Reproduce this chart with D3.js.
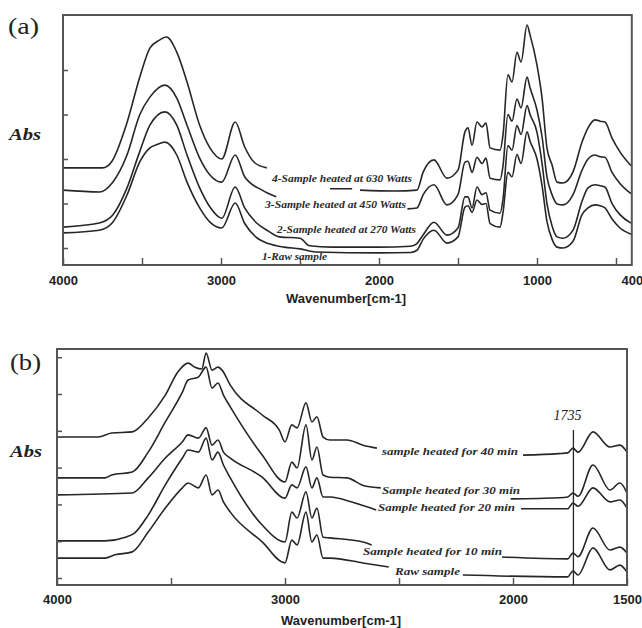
<!DOCTYPE html>
<html><head><meta charset="utf-8">
<script src="https://cdn.jsdelivr.net/npm/d3@7/dist/d3.min.js"></script>
<style>body{margin:0;background:#fff}svg{display:block}</style>
</head><body>
<svg id="c" width="642" height="628"></svg>
<script>
// ---------- DATA: panel (a) ----------
const aTickValues = [4000, 3500, 3000, 2500, 2000, 1500, 1000, 500];
const aTickLabels = [4000, 3000, 2000, 1000, 400];
const aYTicks = [0, 1, 2, 3, 4];
const aSeriesNames = ["4-Sample heated at 630 Watts", "3-Sample heated at 450 Watts", "2-Sample heated at 270 Watts", "1-Raw sample"];
// [wavenumber, absorbance] ; null = break in the trace
const aW630 = [[4000,1.80],[3750,1.80],[3690,1.95],[3600,2.76],[3510,3.89],[3450,4.49],[3390,4.67],[3345,4.74],[3280,4.40],[3215,3.73],[3135,2.76],[3070,2.25],[2995,2.00],[2910,2.83],[2850,2.27],[2785,1.91],[2710,1.80],
  [2500,null],[2310,1.33],[2170,1.33],[2145,null],[2120,1.30],[1900,1.28],[1760,1.30],[1720,1.71],[1652,1.98],[1570,1.57],[1500,1.75],[1456,2.61],[1437,2.70],[1411,2.31],[1380,2.83],[1348,2.72],[1323,2.81],[1297,2.25],[1234,2.20],[1215,2.54],[1184,3.89],[1158,3.73],[1127,4.40],[1101,4.18],[1063,5.01],[1044,4.79],[1000,4.11],[968,3.37],[937,2.25],[905,1.87],[873,1.48],[835,1.46],[772,1.71],[715,2.38],[677,2.70],[633,2.88],[600,2.85],[570,2.83],[525,2.47],[475,2.16],[405,1.85]];
const aW450 = [[4000,1.30],[3770,1.26],[3685,1.48],[3595,2.09],[3515,2.99],[3450,3.39],[3355,3.66],[3280,3.37],[3215,2.76],[3135,2.02],[3070,1.64],[2995,1.48],[2910,2.09],[2850,1.60],[2740,1.30],[2650,1.15],
  [2200,null],[1820,0.88],[1760,0.90],[1720,1.20],[1652,1.42],[1570,0.97],[1500,1.20],[1456,1.93],[1437,1.95],[1411,1.70],[1380,2.04],[1348,1.90],[1323,2.02],[1297,1.57],[1234,1.53],[1215,1.85],[1184,3.00],[1158,2.85],[1127,3.35],[1101,3.15],[1063,3.84],[1044,3.60],[1000,3.10],[968,2.50],[937,1.60],[905,1.20],[873,0.99],[835,0.97],[772,1.20],[715,1.75],[677,2.00],[633,2.09],[600,2.05],[570,2.04],[525,1.70],[475,1.45],[405,1.22]];
const aW270 = [[4000,0.47],[3770,0.56],[3685,0.74],[3595,1.35],[3515,2.16],[3450,2.76],[3355,3.06],[3280,2.76],[3215,2.09],[3135,1.35],[3070,0.92],[2995,0.67],[2910,1.37],[2850,0.90],[2780,0.58],[2700,0.38],[2630,0.25],[2500,0.22],[2440,0.05],[2300,0.02],[2000,0.02],[1800,0.04],[1760,0.10],[1720,0.30],[1652,0.58],[1570,0.29],[1500,0.45],[1456,1.15],[1437,1.15],[1411,0.90],[1380,1.37],[1348,1.20],[1323,1.24],[1297,0.85],[1234,0.78],[1215,1.10],[1184,2.30],[1158,2.20],[1127,2.75],[1101,2.55],[1063,3.20],[1044,3.00],[1000,2.60],[968,1.90],[937,1.00],[905,0.50],[873,0.25],[835,0.22],[772,0.40],[715,1.05],[677,1.35],[633,1.42],[600,1.40],[570,1.37],[525,1.00],[475,0.75],[405,0.56]];
const aRaw = [[4000,0.34],[3770,0.40],[3685,0.58],[3595,1.19],[3515,1.93],[3450,2.25],[3400,2.33],[3355,2.38],[3280,2.09],[3215,1.48],[3135,0.90],[3070,0.58],[2995,0.45],[2910,1.01],[2850,0.55],[2780,0.25],[2700,0.10],[2600,0.02],[2500,-0.02],[2400,-0.09],[2000,-0.11],[1800,-0.10],[1760,-0.05],[1720,0.20],[1652,0.40],[1570,0.11],[1500,0.25],[1456,0.92],[1437,0.95],[1411,0.80],[1380,1.08],[1348,0.98],[1323,1.00],[1297,0.55],[1234,0.47],[1215,0.80],[1184,1.70],[1158,1.60],[1127,2.10],[1101,1.90],[1063,2.61],[1044,2.40],[1000,2.00],[968,1.40],[937,0.60],[905,0.20],[873,0.02],[835,0.00],[772,0.15],[715,0.75],[677,0.90],[633,0.97],[600,0.95],[570,0.90],[525,0.65],[475,0.45],[405,0.31]];

// ---------- DATA: panel (b) ----------
const bTickValues = [4000, 3500, 3000, 2500, 2000, 1500];
const bTickLabels = [4000, 3000, 2000, 1500];
const bYTicks = [0, 1, 2, 3, 4, 5, 6];
const bSeriesNames = ["sample heated for 40 min", "Sample heated for 30 min", "Sample heated for 20 min", "Sample heated for 10 min", "Raw sample"];
const bMarker = 1735;
const b40 = [[4000,3.83],[3820,3.83],[3760,3.94],[3670,3.97],[3600,4.35],[3525,4.97],[3470,5.60],[3425,5.84],[3395,5.73],[3365,5.68],[3346,6.11],[3320,5.65],[3294,5.73],[3276,5.65],[3240,5.24],[3100,4.43],[3025,4.02],[3000,3.70],[2970,4.16],[2947,4.08],[2908,4.76],[2882,4.24],[2860,4.38],[2833,3.83],[2803,3.75],[2728,3.75],[2658,3.61],[2597,3.53],
  [2300,null],[1956,3.34],[1800,3.38],[1760,3.40],[1737,3.53],[1715,3.42],[1649,3.97],[1575,3.56],[1531,3.61],[1500,3.42]];
const b30 = [[4000,2.72],[3790,2.72],[3760,2.80],[3670,2.88],[3600,3.42],[3525,4.24],[3450,5.05],[3425,5.38],[3380,5.46],[3346,5.73],[3320,5.16],[3294,5.30],[3270,4.97],[3240,4.65],[3100,3.34],[3000,2.61],[2970,3.15],[2947,2.99],[2908,4.16],[2882,3.21],[2860,3.56],[2833,2.80],[2803,2.74],[2728,2.72],[2650,2.50],[2580,2.45],
  [2300,null],[2010,2.15],[1800,2.18],[1760,2.20],[1737,2.31],[1715,2.22],[1649,3.07],[1575,2.39],[1531,2.58],[1500,2.31]];
const b20 = [[4000,2.26],[3670,2.31],[3600,2.72],[3525,3.26],[3450,3.70],[3425,3.89],[3380,3.80],[3346,4.08],[3320,3.61],[3294,3.75],[3270,3.42],[3240,3.26],[3100,2.74],[3000,2.17],[2970,2.53],[2947,2.45],[2908,3.02],[2882,2.45],[2860,2.72],[2833,2.20],[2803,2.20],[2700,2.05],[2600,1.85],
  [2300,null],[1965,1.88],[1760,1.88],[1737,2.04],[1715,1.95],[1649,2.45],[1575,2.07],[1531,2.12],[1500,1.90]];
const b10 = [[4000,1.01],[3790,1.01],[3700,1.11],[3660,1.22],[3600,1.71],[3525,2.53],[3450,3.26],[3425,3.48],[3380,3.42],[3346,3.80],[3320,3.21],[3294,3.42],[3270,3.07],[3240,2.72],[3100,1.44],[3000,0.98],[2970,1.79],[2947,1.63],[2908,2.34],[2882,1.63],[2860,1.90],[2833,1.11],[2803,1.09],[2658,0.98],[2620,0.90],
  [2300,null],[2048,0.57],[1760,0.52],[1737,0.68],[1715,0.58],[1649,1.36],[1575,0.76],[1531,0.84],[1500,0.68]];
const bRaw = [[4000,0.54],[3790,0.54],[3745,0.63],[3670,0.71],[3600,1.25],[3525,1.90],[3450,2.45],[3425,2.58],[3380,2.45],[3346,2.80],[3320,2.26],[3294,2.39],[3270,2.07],[3240,1.79],[3100,0.98],[3000,0.41],[2970,1.03],[2947,0.90],[2908,1.79],[2882,0.98],[2860,1.17],[2833,0.54],[2803,0.54],[2658,0.41],[2545,0.30],
  [2400,null],[2220,0.08],[1760,0.03],[1737,0.19],[1715,0.08],[1649,0.82],[1575,0.22],[1531,0.35],[1500,0.16]];

// ---------- DRAW ----------
const svg = d3.select("#c");
const INK = "#262626", FRAME = "#555";

function drawPanel(o) {
  const g = svg.append("g");
  const x = d3.scaleLinear().domain(o.xDomain).range([o.left, o.right]);
  const y = d3.scaleLinear().domain(o.yDomain).range([o.bottom, o.top]);
  const line = d3.line().defined(d => d[1] != null).x(d => x(d[0])).y(d => y(d[1])).curve(d3.curveMonotoneX);
  o.series.forEach(s => g.append("path").datum(s).attr("d", line)
    .attr("fill", "none").attr("stroke", INK).attr("stroke-width", 1.6).attr("stroke-linejoin", "round"));
  const xt = g.append("g").attr("transform", `translate(0,${o.bottom})`)
    .call(d3.axisBottom(x).tickValues(o.xTicks).tickSize(-7).tickFormat(""));
  xt.select(".domain").remove();
  xt.selectAll("line").attr("stroke", FRAME).attr("stroke-width", 1.5);
  const xl = g.append("g").attr("transform", `translate(0,${o.bottom})`)
    .call(d3.axisBottom(x).tickValues(o.xLabels).tickSize(0).tickPadding(o.pad).tickFormat(d3.format("d")));
  xl.select(".domain").remove();
  xl.selectAll("text").attr("font-family", "'Liberation Sans', Arial, sans-serif").attr("font-weight", "bold")
    .attr("font-size", 13).attr("fill", "#222");
  const yt = g.append("g").attr("transform", `translate(${o.left},0)`)
    .call(d3.axisLeft(y).tickValues(o.yTicks).tickSize(-5).tickFormat(""));
  yt.select(".domain").remove();
  yt.selectAll("line").attr("stroke", FRAME).attr("stroke-width", 1.5);
  g.append("rect").attr("x", o.left).attr("y", o.top).attr("width", o.right - o.left).attr("height", o.bottom - o.top)
    .attr("fill", "none").attr("stroke", FRAME).attr("stroke-width", 2);
  g.append("text").attr("x", o.titleX).attr("y", o.titleY).attr("text-anchor", "middle")
    .attr("font-family", "'Liberation Sans', Arial, sans-serif").attr("font-weight", "bold").attr("font-size", 13)
    .attr("fill", "#222").text("Wavenumber[cm-1]");
  g.append("text").attr("x", o.letterX).attr("y", o.letterY).attr("font-family", "'Liberation Serif', 'Times New Roman', serif")
    .attr("font-size", 24).attr("fill", "#222").attr("textLength", 31).attr("lengthAdjust", "spacingAndGlyphs").text(o.letter);
  g.append("text").attr("x", o.absX).attr("y", o.absY).attr("font-family", "'Liberation Serif', 'Times New Roman', serif")
    .attr("font-size", 16).attr("font-weight", "bold").attr("font-style", "italic").attr("fill", "#222")
    .attr("textLength", 32).attr("lengthAdjust", "spacingAndGlyphs").text("Abs");
  o.names.forEach((n, i) => {
    const p = o.labelPos[i];
    g.append("text").attr("x", p[0]).attr("y", p[1]).attr("font-family", "'Liberation Serif', 'Times New Roman', serif")
      .attr("font-size", o.labelSize).attr("font-style", "italic").attr("font-weight", "bold").attr("fill", "#2a2a2a")
      .attr("textLength", p[2]).attr("lengthAdjust", "spacingAndGlyphs").text(n);
  });
  return {g, x, y};
}

drawPanel({
  xDomain: [4000, 400], yDomain: [-0.382, 5.236], left: 63, right: 631.8, top: 15, bottom: 265,
  series: [aW630, aW450, aW270, aRaw], xTicks: aTickValues, xLabels: aTickLabels, yTicks: aYTicks, pad: 11,
  titleX: 346, titleY: 303, letter: "(a)", letterX: 8, letterY: 34, absX: 9, absY: 140,
  names: aSeriesNames, labelSize: 10.5,
  labelPos: [[272, 182, 140], [265, 208, 141], [277, 233, 139], [262, 260, 65]]
});

const pb = drawPanel({
  xDomain: [4000, 1500], yDomain: [-0.19, 6.223], left: 57, right: 627, top: 349, bottom: 585,
  series: [b40, b30, b20, b10, bRaw], xTicks: bTickValues, xLabels: bTickLabels, yTicks: bYTicks, pad: 10,
  titleX: 341, titleY: 625, letter: "(b)", letterX: 10, letterY: 370, absX: 10, absY: 457,
  names: bSeriesNames, labelSize: 11,
  labelPos: [[382, 455, 136], [382, 494, 138], [378, 511, 137], [363, 555, 139], [395, 575, 65]]
});

pb.g.append("line").attr("x1", pb.x(bMarker)).attr("x2", pb.x(bMarker)).attr("y1", 430).attr("y2", 585)
  .attr("stroke", INK).attr("stroke-width", 1.3);
pb.g.append("text").attr("x", pb.x(bMarker) - 6).attr("y", 420).attr("text-anchor", "middle")
  .attr("font-family", "'Liberation Serif', 'Times New Roman', serif").attr("font-style", "italic")
  .attr("font-size", 14).attr("fill", "#222").text(String(bMarker));
</script>
</body></html>
